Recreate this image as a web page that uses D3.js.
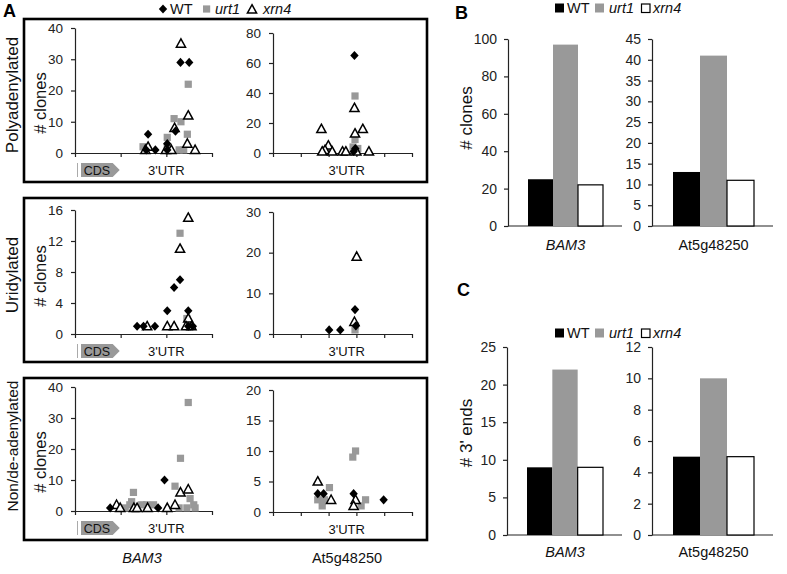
<!DOCTYPE html>
<html><head><meta charset="utf-8">
<script src="https://cdn.jsdelivr.net/npm/d3@7"></script>
<style>body{margin:0;background:#fff} svg{display:block;font-family:"Liberation Sans",Arial,sans-serif}</style>
</head><body><svg id="c" width="787" height="574"></svg>
<script>
// ---------- DATA ----------
const genes = ["BAM3", "At5g48250"];
const series = ["WT", "urt1", "xrn4"];
const rowLabels = ["Polyadenylated", "Uridylated", "Non/de-adenylated"];

// Panel A scatter points: [position along transcript, # clones]
const bam3PolyWT   = [[1.56,1],[1.6,6],[1.76,1],[2.02,3],[2.02,1],[2.2,7],[2.31,29],[2.5,29]];
const bam3PolyUrt1 = [[1.49,2],[2.02,5],[2.02,2],[2.17,11],[2.32,10],[2.28,1],[2.38,1],[2.46,6],[2.48,22]];
const bam3PolyXrn4 = [[1.54,1],[1.6,2],[1.99,1],[2.11,1],[2.18,8],[2.32,35],[2.48,12],[2.46,3],[2.63,1]];
const at5PolyWT    = [[2.93,65],[2.96,3],[2.9,1]];
const at5PolyUrt1  = [[1.89,2],[2.0,3],[2.95,38],[2.95,9],[2.88,4],[3.05,3],[2.95,1]];
const at5PolyXrn4  = [[1.74,16],[1.99,5],[1.87,2],[1.77,1],[2.13,1],[2.5,1],[2.62,1],[2.93,30],[2.95,13],[3.23,16],[3.0,1],[3.45,1]];

const bam3UridWT   = [[1.36,1],[1.5,1],[1.75,1],[2.02,3],[2.17,6],[2.3,7],[2.48,3],[2.48,1],[2.58,1]];
const bam3UridUrt1 = [[2.3,13],[2.45,2],[2.5,1]];
const bam3UridXrn4 = [[1.58,1],[2.02,1],[2.17,1],[2.3,11],[2.48,15],[2.48,2],[2.43,1],[2.55,1]];
const at5UridWT    = [[2.02,1],[2.42,1],[2.95,6],[2.98,2]];
const at5UridUrt1  = [[2.95,1],[2.97,2]];
const at5UridXrn4  = [[3.01,19],[2.93,3]];

const bam3NonWT    = [[0.77,1],[1.96,10],[1.82,1]];
const bam3NonUrt1  = [[1.28,6],[1.24,3],[1.2,2],[1.1,1],[1.46,2],[1.57,2],[1.72,2],[2.19,8],[2.31,17],[2.48,35],[2.52,4],[2.6,2],[2.45,1],[2.63,1],[2.28,1]];
const bam3NonXrn4  = [[0.91,2],[0.99,1],[1.29,1],[1.36,1],[1.59,1],[2.02,1],[2.19,2],[2.31,6],[2.48,7]];
const at5NonWT     = [[1.61,3],[1.82,3],[2.9,3],[3.98,2]];
const at5NonUrt1   = [[2.03,4],[1.61,2],[1.77,1],[1.85,2],[2.87,9],[2.97,10],[3.33,2],[3.17,1]];
const at5NonXrn4   = [[1.61,5],[2.09,2],[2.97,2],[2.9,1]];

// y tick labels for panel A
const bam3PolyTicks = [0,10,20,30,40];
const at5PolyTicks  = [0,20,40,60,80];
const bam3UridTicks = [0,4,8,12,16];
const at5UridTicks  = [0,10,20,30];
const bam3NonTicks  = [0,10,20,30,40];
const at5NonTicks   = [0,5,10,15,20];

// Panel B (# clones) and C (# 3' ends): values per gene
const clonesWT   = [25, 13];
const clonesUrt1 = [97, 41];
const clonesXrn4 = [22, 11];
const endsWT     = [9, 5];
const endsUrt1   = [22, 10];
const endsXrn4   = [9, 5];
const clonesTicksBAM3 = [0,20,40,60,80,100];
const clonesTicksAt5  = [0,5,10,15,20,25,30,35,40,45];
const endsTicksBAM3   = [0,5,10,15,20,25];
const endsTicksAt5    = [0,2,4,6,8,10,12];

// ---------- DRAW ----------
const svg = d3.select("#c");
const GREY = "#999999", INK = "#111";

function styleAxis(ax, fs){
  ax.attr("font-family", null).attr("font-size", fs);
  ax.selectAll("path,line").attr("stroke", "#222").attr("stroke-width", 1.2);
  ax.selectAll("text").attr("fill", "#222");
}
const diamondPath = "M0,-4.6L4.2,0L0,4.6L-4.2,0Z";
const trianglePath = "M0,-4.8L4.6,3.6L-4.6,3.6Z";

function scatter(o){
  const x = d3.scaleLinear().domain([0, o.xmax]).range([o.x0, o.x1]);
  const y = d3.scaleLinear().domain([0, d3.max(o.ticks)]).range([o.bot, o.top]);
  const g = svg.append("g");
  const ya = g.append("g").attr("transform", `translate(${o.x0},0)`)
    .call(d3.axisLeft(y).tickValues(o.ticks).tickSize(4).tickPadding(8).tickSizeOuter(0));
  styleAxis(ya, 13.5);
  const xa = g.append("g").attr("transform", `translate(0,${o.bot})`)
    .call(d3.axisBottom(x).tickValues(d3.range(0, o.xmax + 1)).tickSize(4).tickFormat("").tickSizeOuter(0));
  styleAxis(xa, 13);
  if (o.cds){
    const a = x(0) + 6, b = x(1) - 1, t = o.bot + 10, h = 14;
    g.append("line").attr("x1", x(0)+2.5).attr("x2", x(0)+2.5).attr("y1", t).attr("y2", t+h).attr("stroke", "#aaa").attr("stroke-width", 1);
    g.append("path").attr("d", `M${a},${t}L${b-7},${t}L${b},${t+h/2}L${b-7},${t+h}L${a},${t+h}Z`).attr("fill", GREY);
    g.append("text").attr("x", (a + b - 7)/2).attr("y", t + 11.5).attr("text-anchor", "middle").attr("font-size", 12.5).attr("fill", INK).text("CDS");
  }
  g.append("text").attr("x", x(o.utr)).attr("y", o.bot + 22).attr("text-anchor", "middle").attr("font-size", 13).attr("fill", INK).text("3'UTR");
  g.selectAll(".sq").data(o.urt).join("rect").attr("x", d => x(d[0]) - 3.6).attr("y", d => y(d[1]) - 3.6)
    .attr("width", 7.2).attr("height", 7.2).attr("fill", GREY);
  g.selectAll(".tr").data(o.xrn).join("path").attr("d", trianglePath)
    .attr("transform", d => `translate(${x(d[0])},${y(d[1])})`).attr("fill", "#fff").attr("stroke", "#000").attr("stroke-width", 1.5);
  g.selectAll(".dm").data(o.wt).join("path").attr("d", diamondPath)
    .attr("transform", d => `translate(${x(d[0])},${y(d[1])})`).attr("fill", "#000");
}

const boxes = [[19,182],[198,362],[378,540]];
boxes.forEach(b => svg.append("rect").attr("x", 24).attr("y", b[0]).attr("width", 403).attr("height", b[1]-b[0])
  .attr("fill", "none").attr("stroke", "#000").attr("stroke-width", 2.6));

const rows = [
  {bam:{top:28,bot:153,ticks:bam3PolyTicks,wt:bam3PolyWT,urt:bam3PolyUrt1,xrn:bam3PolyXrn4},
   at5:{top:33,bot:153,ticks:at5PolyTicks,wt:at5PolyWT,urt:at5PolyUrt1,xrn:at5PolyXrn4}, lab:95, lfs:17, cl:103},
  {bam:{top:210,bot:334,ticks:bam3UridTicks,wt:bam3UridWT,urt:bam3UridUrt1,xrn:bam3UridXrn4},
   at5:{top:212,bot:334,ticks:at5UridTicks,wt:at5UridWT,urt:at5UridUrt1,xrn:at5UridXrn4}, lab:275, lfs:17, cl:276},
  {bam:{top:387,bot:511,ticks:bam3NonTicks,wt:bam3NonWT,urt:bam3NonUrt1,xrn:bam3NonXrn4},
   at5:{top:390,bot:512,ticks:at5NonTicks,wt:at5NonWT,urt:at5NonUrt1,xrn:at5NonXrn4}, lab:446, lfs:15.5, cl:462}
];
rows.forEach((r, i) => {
  scatter(Object.assign({x0:75, x1:212, xmax:3, cds:true, utr:2}, r.bam));
  scatter(Object.assign({x0:273, x1:412, xmax:5, cds:false, utr:2.65}, r.at5));
  svg.append("text").attr("transform", `translate(18,${r.lab}) rotate(-90)`).attr("text-anchor", "middle")
    .attr("font-size", r.lfs).attr("fill", INK).text(rowLabels[i]);
  svg.append("text").attr("transform", `translate(46,${r.cl}) rotate(-90)`).attr("text-anchor", "middle")
    .attr("font-size", 16.5).attr("fill", INK).text("# clones");
});
svg.append("text").attr("x", 142).attr("y", 563).attr("text-anchor", "middle").attr("font-size", 14.5).attr("font-style", "italic").attr("fill", INK).text(genes[0]);
svg.append("text").attr("x", 347).attr("y", 563).attr("text-anchor", "middle").attr("font-size", 14.5).attr("fill", INK).text(genes[1]);

svg.append("text").attr("x", 3).attr("y", 17).attr("font-size", 18).attr("font-weight", "bold").text("A");
svg.append("text").attr("x", 455).attr("y", 19).attr("font-size", 18).attr("font-weight", "bold").text("B");
svg.append("text").attr("x", 457).attr("y", 296).attr("font-size", 18).attr("font-weight", "bold").text("C");

(function(){
  const g = svg.append("g").attr("font-size", 14.5).attr("fill", INK);
  const cy = 9;
  g.append("path").attr("d", diamondPath).attr("transform", `translate(163,${cy})`).attr("fill", "#000");
  g.append("text").attr("x", 170).attr("y", cy+5).text(series[0]);
  g.append("rect").attr("x", 203).attr("y", cy-3.6).attr("width", 7.2).attr("height", 7.2).attr("fill", GREY);
  g.append("text").attr("x", 215).attr("y", cy+5).attr("font-style", "italic").text(series[1]);
  g.append("path").attr("d", trianglePath).attr("transform", `translate(252,${cy+0.5})`).attr("fill", "#fff").attr("stroke", "#000").attr("stroke-width", 1.5);
  g.append("text").attr("x", 263).attr("y", cy+5).attr("font-style", "italic").text(series[2]);
})();

function barLegend(cy){
  const g = svg.append("g").attr("font-size", 14.5).attr("fill", INK);
  g.append("rect").attr("x", 555).attr("y", cy-4.5).attr("width", 9).attr("height", 9).attr("fill", "#000");
  g.append("text").attr("x", 567).attr("y", cy+5).text(series[0]);
  g.append("rect").attr("x", 595).attr("y", cy-4.5).attr("width", 9).attr("height", 9).attr("fill", GREY);
  g.append("text").attr("x", 609).attr("y", cy+5).attr("font-style", "italic").text(series[1]);
  g.append("rect").attr("x", 641.5).attr("y", cy-4).attr("width", 8.5).attr("height", 8.5).attr("fill", "#fff").attr("stroke", "#000").attr("stroke-width", 1.2);
  g.append("text").attr("x", 653).attr("y", cy+5).attr("font-style", "italic").text(series[2]);
}
barLegend(8);
barLegend(333);

function bars(o){
  const y = d3.scaleLinear().domain([0, d3.max(o.ticks)]).range([o.bot, o.top]);
  const x = d3.scaleBand().domain(series).range([o.b0, o.b1]).padding(0);
  const g = svg.append("g");
  const ya = g.append("g").attr("transform", `translate(${o.x0},0)`)
    .call(d3.axisLeft(y).tickValues(o.ticks).tickSize(4).tickPadding(7).tickSizeOuter(0));
  styleAxis(ya, 14);
  g.append("line").attr("x1", o.x0).attr("x2", o.x1).attr("y1", o.bot).attr("y2", o.bot).attr("stroke", "#222").attr("stroke-width", 1.2);
  const fills = ["#000", GREY, "#fff"];
  g.selectAll("rect").data(o.vals).join("rect")
    .attr("x", (d,i) => x(series[i])).attr("y", d => y(d)).attr("width", x.bandwidth()).attr("height", d => o.bot - y(d))
    .attr("fill", (d,i) => fills[i]).attr("stroke", (d,i) => i === 2 ? "#000" : "none").attr("stroke-width", 1.2);
  g.append("text").attr("x", (o.b0+o.b1)/2).attr("y", o.lab).attr("text-anchor", "middle").attr("font-size", 14.5)
    .attr("font-style", o.italic ? "italic" : null).attr("fill", INK).text(o.name);
}
bars({x0:508, x1:622, b0:528, b1:603, top:39, bot:226, ticks:clonesTicksBAM3, vals:[clonesWT[0],clonesUrt1[0],clonesXrn4[0]], lab:250, name:genes[0], italic:true});
bars({x0:652, x1:773, b0:673, b1:754, top:39, bot:226, ticks:clonesTicksAt5, vals:[clonesWT[1],clonesUrt1[1],clonesXrn4[1]], lab:250, name:genes[1], italic:false});
bars({x0:507, x1:622, b0:527, b1:603, top:347, bot:535, ticks:endsTicksBAM3, vals:[endsWT[0],endsUrt1[0],endsXrn4[0]], lab:557, name:genes[0], italic:true});
bars({x0:652, x1:773, b0:673, b1:754, top:347, bot:535, ticks:endsTicksAt5, vals:[endsWT[1],endsUrt1[1],endsXrn4[1]], lab:557, name:genes[1], italic:false});
svg.append("text").attr("transform", "translate(472,118) rotate(-90)").attr("text-anchor", "middle").attr("font-size", 17).attr("fill", INK).text("# clones");
svg.append("text").attr("transform", "translate(472,433) rotate(-90)").attr("text-anchor", "middle").attr("font-size", 17).attr("fill", INK).text("# 3' ends");
</script></body></html>
